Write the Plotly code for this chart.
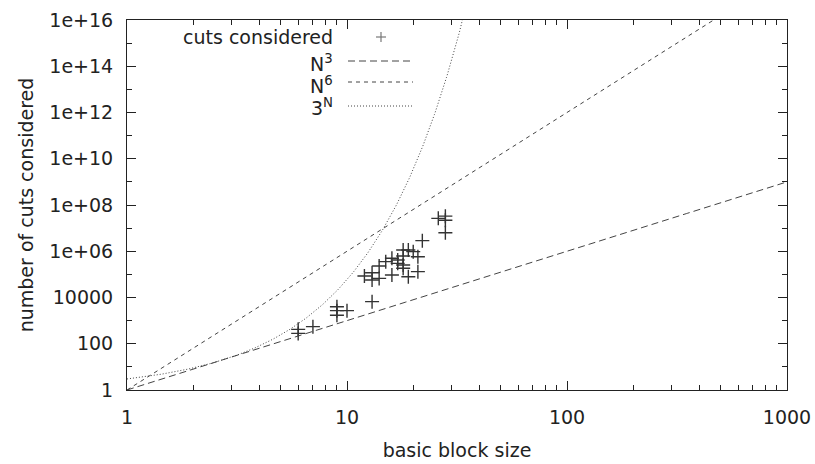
import numpy as np
import plotly.graph_objects as go

# ---- data ----
block_size = [6, 6, 7, 9, 9, 9, 10, 13, 12, 13, 13, 14, 14, 15, 16, 16, 17, 17,
              18, 18, 18, 18, 19, 20, 19, 21, 21, 22, 26, 28, 28, 28]
cuts = [420, 280, 550, 4000, 2700, 1700, 2700, 6600, 85000, 118000, 57000, 67000,
        230000, 355000, 500000, 94000, 300000, 420000, 1130000, 620000, 255000,
        183000, 1130000, 960000, 79000, 577000, 131000, 2870000, 26500000,
        33000000, 22000000, 6300000]

y_tickvals = [1, 1e2, 1e4, 1e6, 1e8, 1e10, 1e12, 1e14, 1e16]
y_ticktext = ["1", "100", "10000", "1e+06", "1e+08", "1e+10", "1e+12", "1e+14", "1e+16"]
x_tickvals = [1, 10, 100, 1000]
x_ticktext = ["1", "10", "100", "1000"]

# reference curves (sample points along N)
n_grid = np.geomspace(1, 1000, 600)
n3 = n_grid ** 3
n6 = n_grid ** 6
n_exp = n_grid[n_grid <= 40]
e3 = 3.0 ** n_exp

FONT = "DejaVu Sans"
TXT = "#222222"
LINE = "#444444"

fig = go.Figure()
fig.add_trace(go.Scatter(x=block_size, y=cuts, mode="markers",
                         marker=dict(symbol="cross-thin-open", size=10, color="#333333",
                                     line=dict(width=1.4, color="#333333")),
                         showlegend=False))
fig.add_trace(go.Scatter(x=n_grid, y=n3, mode="lines",
                         line=dict(color=LINE, width=1, dash="7px,4px"), showlegend=False))
fig.add_trace(go.Scatter(x=n_grid, y=n6, mode="lines",
                         line=dict(color=LINE, width=1, dash="4px,4px"), showlegend=False))
fig.add_trace(go.Scatter(x=n_exp, y=e3, mode="lines",
                         line=dict(color=LINE, width=1, dash="1px,2px"), showlegend=False))

x_minor = [m * 10 ** d for d in range(3) for m in range(2, 10)]
y_minor = [10.0 ** k for k in range(1, 16, 2)]

axis_common = dict(showgrid=False, zeroline=False, showline=True, linecolor="#222",
                   linewidth=1, mirror="ticks", ticks="inside", tickcolor="#222",
                   ticklen=9, tickwidth=1, automargin=False,
                   tickfont=dict(family=FONT, size=19, color=TXT))

fig.update_xaxes(type="log", range=[0, 3], tickmode="array", tickvals=x_tickvals,
                 ticktext=x_ticktext,
                 minor=dict(tickmode="array", tickvals=x_minor, ticks="inside",
                            ticklen=5, tickcolor="#222", showgrid=False),
                 title=dict(text="basic block size", font=dict(family=FONT, size=19, color=TXT),
                            standoff=16),
                 ticklabelstandoff=10,
                 **axis_common)
fig.update_yaxes(type="log", range=[0, 16], tickmode="array", tickvals=y_tickvals,
                 ticktext=y_ticktext,
                 minor=dict(tickmode="array", tickvals=y_minor, ticks="inside",
                            ticklen=5, tickcolor="#222", showgrid=False),
                 title=dict(text="number of cuts considered",
                            font=dict(family=FONT, size=19, color=TXT), standoff=10),
                 ticklabelstandoff=9,
                 **axis_common)

# ---- gnuplot-style key (text right-aligned, sample to the right) ----
W, H = 660.0, 370.0
def px(x):
    return (x - 127) / W
def py(y):
    return (390 - y) / H

key_labels = ["cuts considered", "N<sup>3</sup>", "N<sup>6</sup>", "3<sup>N</sup>"]
key_y = [37, 63, 85, 107]
for lab, yy in zip(key_labels, key_y):
    fig.add_annotation(x=px(335), y=py(yy), xref="paper", yref="paper", text=lab,
                       showarrow=False, xanchor="right", yanchor="middle",
                       font=dict(family=FONT, size=19, color=TXT))
# plus sample
fig.add_shape(type="line", xref="paper", yref="paper", x0=px(376), x1=px(386),
              y0=py(37), y1=py(37), line=dict(color="#777", width=1.2))
fig.add_shape(type="line", xref="paper", yref="paper", x0=px(381), x1=px(381),
              y0=py(32), y1=py(42), line=dict(color="#777", width=1.2))
for yy, dash in zip([61, 82, 106], ["7px,4px", "4px,4px", "1px,2px"]):
    fig.add_shape(type="line", xref="paper", yref="paper", x0=px(348), x1=px(413),
                  y0=py(yy), y1=py(yy), line=dict(color=LINE, width=1, dash=dash))

fig.update_layout(width=815, height=464, margin=dict(l=127, r=28, t=20, b=74),
                  plot_bgcolor="white", paper_bgcolor="white",
                  font=dict(family=FONT, size=19, color=TXT))
fig.write_html("out.html")
